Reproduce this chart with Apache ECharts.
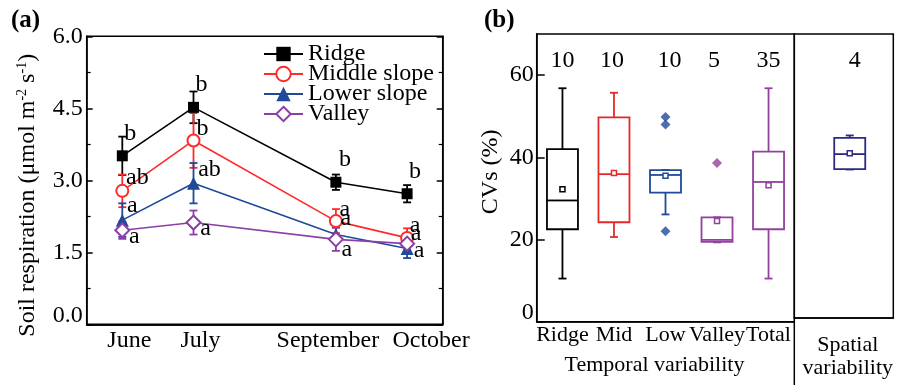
<!DOCTYPE html>
<html><head><meta charset="utf-8">
<script src="https://cdn.jsdelivr.net/npm/echarts@6/dist/echarts.min.js"></script>
<style>html,body{margin:0;padding:0;background:#fff}#c{width:904px;height:385px}</style>
</head><body><div id="c"></div>
<script>
// ---------- Panel (a) data ----------
const monthLabels = ['June', 'July', '', 'September', 'October'];
const seriesNames = ['Ridge', 'Middle slope', 'Lower slope', 'Valley'];
const ridgeMean  = [3.51, 4.52, null, 2.96, 2.72];
const ridgeErr   = [0.40, 0.33, null, 0.16, 0.18];
const midMean    = [2.78, 3.83, null, 2.15, 1.80];
const midErr     = [0.34, 0.57, null, 0.25, 0.20];
const lowMean    = [2.17, 2.94, null, 1.87, 1.58];
const lowErr     = [0.35, 0.42, null, 0.15, 0.20];
const valleyMean = [1.96, 2.12, null, 1.77, 1.68];
const valleyErr  = [0.18, 0.25, null, 0.24, 0.14];
const ridgeLetters  = ['b', 'b', '', 'b', 'b'];
const midLetters    = ['ab', 'b', '', 'a', 'a'];
const lowLetters    = ['a', 'ab', '', 'a', 'a'];
const valleyLetters = ['a', 'a', '', 'a', 'a'];

// ---------- Panel (b) data ----------
const boxCategories = ['Ridge', 'Mid', 'Low', 'Valley', 'Total'];
const boxMin    = [10.5, 20.6, 26.1, 19.3, 10.5];
const boxQ1     = [22.5, 24.2, 31.4, 19.4, 22.5];
const boxMedian = [29.5, 35.9, 35.7, 19.9, 34.0];
const boxQ3     = [42.0, 49.7, 36.9, 25.4, 41.4];
const boxMax    = [56.8, 55.7, 36.9, 25.4, 56.8];
const boxMean   = [32.2, 36.2, 35.5, 24.5, 33.2];
const boxN      = [10, 10, 10, 5, 35];
const outlierCategory = ['Low', 'Low', 'Low', 'Valley'];
const outlierValue    = [49.8, 48.0, 22.0, 38.6];
const spatialStats = [36.6, 36.7, 40.4, 44.4, 45.0]; // min, Q1, median, Q3, max
const spatialMean = 40.6;
const spatialN = 4;

// ---------- styles / layout ----------
const FONT = "'Liberation Serif','Times New Roman',serif";
const lineColors = ['#000000', '#ff2a2a', '#1f4a98', '#8c3fa6'];
const lineSymbols = ['rect', 'emptyCircle', 'triangle', 'emptyDiamond'];
const lineSymbolSizes = [11, 12, 13, 14];
const boxColors = ['#000000', '#e5292b', '#1f4a9c', '#93409e', '#93409e'];
const spatialColor = '#2b2b82';
const spatialX = 0.56; // horizontal placement inside the spatial panel
const nLabelShift = [0, -2, 4, -3, 0];
const letterOffsets = [
  [[8, -22], [8, -23], null, [9, -23], [8, -22]],
  [[15, -13], [9, -12], null, [9, -11], [8, -12]],
  [[10, -14], [16, -13], null, [10, -16], [9, -15]],
  [[12, 6], [12, 6], null, [11, 10], [12, 7]]
];

const means = [ridgeMean, midMean, lowMean, valleyMean];
const errs = [ridgeErr, midErr, lowErr, valleyErr];
const letters = [ridgeLetters, midLetters, lowLetters, valleyLetters];

const series = [];
// error bars
means.forEach((m, s) => {
  const data = [];
  m.forEach((v, i) => { if (v != null) data.push([i, v, errs[s][i]]); });
  series.push({
    type: 'custom', xAxisIndex: 0, yAxisIndex: 0, z: 2, silent: true,
    encode: { x: 0, y: 1 },
    data: data,
    renderItem: function (params, api) {
      const i = api.value(0), v = api.value(1), e = api.value(2);
      const top = api.coord([i, v + e]);
      const bot = api.coord([i, v - e]);
      const c = lineColors[s];
      const st = { stroke: c, lineWidth: 1.8 };
      return {
        type: 'group', children: [
          { type: 'line', shape: { x1: top[0], y1: top[1], x2: bot[0], y2: bot[1] }, style: st },
          { type: 'line', shape: { x1: top[0] - 4, y1: top[1], x2: top[0] + 4, y2: top[1] }, style: st },
          { type: 'line', shape: { x1: bot[0] - 4, y1: bot[1], x2: bot[0] + 4, y2: bot[1] }, style: st }
        ]
      };
    }
  });
});
// lines
means.forEach((m, s) => {
  series.push({
    type: 'line', name: seriesNames[s], xAxisIndex: 0, yAxisIndex: 0, z: 3,
    connectNulls: true,
    symbol: lineSymbols[s], symbolSize: lineSymbolSizes[s],
    itemStyle: { color: lineColors[s], borderWidth: 1.6 },
    lineStyle: { color: lineColors[s], width: 1.6 },
    data: m.map((v, i) => ({
      value: v,
      label: {
        show: v != null, formatter: letters[s][i], position: 'inside',
        offset: letterOffsets[s][i] || [0, 0],
        color: '#000', fontFamily: FONT, fontSize: 24
      }
    }))
  });
});
// boxes
function makeBoxRenderer(colorOf, shiftOf) {
  return function (params, api) {
    const x = api.value(0);
    const p = [1, 2, 3, 4, 5].map(k => api.coord([x, api.value(k)]));
    const mean = api.coord([x, api.value(6)]);
    const n = api.value(7);
    const cx = p[0][0];
    const bw = 31, cap = 4;
    const c = colorOf(params.dataIndex);
    const st = { stroke: c, lineWidth: 1.8, fill: null };
    const cs = params.coordSys;
    return {
      type: 'group', children: [
        { type: 'line', shape: { x1: cx, y1: p[3][1], x2: cx, y2: p[4][1] }, style: st },
        { type: 'line', shape: { x1: cx, y1: p[1][1], x2: cx, y2: p[0][1] }, style: st },
        { type: 'line', shape: { x1: cx - cap, y1: p[4][1], x2: cx + cap, y2: p[4][1] }, style: st },
        { type: 'line', shape: { x1: cx - cap, y1: p[0][1], x2: cx + cap, y2: p[0][1] }, style: st },
        { type: 'rect', shape: { x: cx - bw / 2, y: p[3][1], width: bw, height: p[1][1] - p[3][1] }, style: { stroke: c, lineWidth: 1.8, fill: '#fff' } },
        { type: 'line', shape: { x1: cx - bw / 2, y1: p[2][1], x2: cx + bw / 2, y2: p[2][1] }, style: st },
        { type: 'rect', shape: { x: mean[0] - 2.5, y: mean[1] - 2.5, width: 5, height: 5 }, style: { stroke: c, lineWidth: 1.5, fill: '#fff' } },
        { type: 'text', style: { text: String(n), x: cx + shiftOf(params.dataIndex), y: cs.y + 27, align: 'center', verticalAlign: 'middle', fontFamily: FONT, fontSize: 24, fill: '#000' } }
      ]
    };
  };
}
series.push({
  type: 'custom', xAxisIndex: 2, yAxisIndex: 2, silent: true,
  encode: { x: 0, y: [1, 2, 3, 4, 5] },
  data: boxCategories.map((c, i) => [i, boxMin[i], boxQ1[i], boxMedian[i], boxQ3[i], boxMax[i], boxMean[i], boxN[i]]),
  renderItem: makeBoxRenderer(i => boxColors[i], i => nLabelShift[i])
});
series.push({
  type: 'scatter', xAxisIndex: 2, yAxisIndex: 2, symbol: 'diamond', symbolSize: 10, silent: true,
  data: outlierCategory.map((c, i) => ({
    value: [boxCategories.indexOf(c), outlierValue[i]],
    itemStyle: { color: boxColors[boxCategories.indexOf(c)] }
  }))
});
series.push({
  type: 'custom', xAxisIndex: 3, yAxisIndex: 3, silent: true,
  encode: { x: 0, y: [1, 2, 3, 4, 5] },
  data: [[spatialX].concat(spatialStats, [spatialMean, spatialN])],
  renderItem: makeBoxRenderer(() => spatialColor, () => 5)
});

const axisLineStyle = { color: '#000', width: 1.5 };
const tickLabel = { color: '#000', fontFamily: FONT, fontSize: 24 };
const xShift = [[0, 0, 0, 14], [0, 0, 0, 14], [0, 0, 0, 0], [0, 16, 0, 0], [0, 0, 0, 48]];
const richX = {};
xShift.forEach((pd, i) => { richX['m' + i] = { fontFamily: FONT, fontSize: 24, color: '#000', padding: pd }; });

const option = {
  animation: false,
  backgroundColor: '#fff',
  title: [
    { text: '(a)', left: 11, top: 8, padding: 0, textStyle: { fontFamily: FONT, fontSize: 25, fontWeight: 'bold', color: '#000' } },
    { text: '(b)', left: 484, top: 8, padding: 0, textStyle: { fontFamily: FONT, fontSize: 25, fontWeight: 'bold', color: '#000' } }
  ],
  legend: {
    data: seriesNames, orient: 'vertical', left: 263, top: 42, padding: 0,
    itemWidth: 39, itemHeight: 18, itemGap: -4,
    textStyle: { fontFamily: FONT, fontSize: 24, color: '#000' }
  },
  grid: [
    { left: 86.7, top: 36.3, width: 356, height: 288, show: true, borderColor: '#000', borderWidth: 1.5, backgroundColor: 'transparent' },
    { left: 536.7, top: 34, width: 257.6, height: 287.7, show: true, borderColor: '#000', borderWidth: 1.5, backgroundColor: 'transparent' },
    { left: 794.3, top: 34, width: 99, height: 287.7, show: true, borderColor: '#000', borderWidth: 1.5, backgroundColor: 'transparent' }
  ],
  xAxis: [
    { gridIndex: 0, type: 'category', data: monthLabels, boundaryGap: true,
      axisLine: { lineStyle: axisLineStyle },
      axisTick: { inside: true, alignWithLabel: true, length: 6, lineStyle: axisLineStyle },
      axisLabel: { margin: 4, interval: 0, formatter: (v, i) => v ? '{m' + i + '|' + v + '}' : '', rich: richX },
      splitLine: { show: false } },
    { gridIndex: 0, type: 'category', data: monthLabels, position: 'top',
      axisLine: { lineStyle: axisLineStyle }, axisTick: { show: false }, axisLabel: { show: false } },
    { gridIndex: 1, type: 'category', data: boxCategories, boundaryGap: true,
      axisLine: { lineStyle: axisLineStyle },
      axisTick: { inside: true, alignWithLabel: true, length: 8, lineStyle: axisLineStyle },
      axisLabel: { margin: 3, interval: 0, color: '#000', fontFamily: FONT, fontSize: 22 },
      name: 'Temporal variability', nameLocation: 'middle', nameGap: 33,
      nameTextStyle: { fontFamily: FONT, fontSize: 22, color: '#000', padding: [0, 22, 0, 0] } },
    { gridIndex: 2, type: 'value', min: 0, max: 1,
      axisLine: { lineStyle: axisLineStyle }, axisTick: { show: false }, axisLabel: { show: false }, splitLine: { show: false },
      name: 'Spatial\nvariability', nameLocation: 'middle', nameGap: 16,
      nameTextStyle: { fontFamily: FONT, fontSize: 22, lineHeight: 23, color: '#000', padding: [0, 0, 0, 8] } }
  ],
  yAxis: [
    { gridIndex: 0, type: 'value', min: 0, max: 6, interval: 1.5,
      axisLine: { show: true, lineStyle: axisLineStyle },
      axisTick: { show: true, inside: true, length: 6, lineStyle: axisLineStyle },
      minorTick: { show: true, splitNumber: 2, length: 4, lineStyle: { color: '#000', width: 1.2 } },
      axisLabel: { margin: 4, formatter: v => v === 0 ? '{z|0.0}' : '{n|' + v.toFixed(1) + '}',
        rich: { z: Object.assign({ padding: [0, 0, 18, 0] }, tickLabel), n: tickLabel } },
      splitLine: { show: false },
      name: 'Soil respiration (μmol m{sup|-2} s{sup|-1})', nameLocation: 'middle', nameGap: 47,
      nameTextStyle: { fontFamily: FONT, fontSize: 24, color: '#000', padding: [0, 30, 0, 0],
        rich: { sup: { fontFamily: FONT, fontSize: 14, verticalAlign: 'top', padding: [0, 0, 10, 0], color: '#000' } } } },
    { gridIndex: 0, type: 'value', min: 0, max: 6, interval: 1.5, position: 'right',
      axisLine: { show: true, lineStyle: axisLineStyle },
      axisTick: { show: true, inside: true, length: 6, lineStyle: axisLineStyle },
      minorTick: { show: true, splitNumber: 2, length: 4, lineStyle: { color: '#000', width: 1.2 } },
      axisLabel: { show: false }, splitLine: { show: false } },
    { gridIndex: 1, type: 'value', min: 0, max: 70, interval: 20,
      axisLine: { show: true, lineStyle: axisLineStyle },
      axisTick: { show: true, inside: true, length: 8, lineStyle: axisLineStyle },
      axisLabel: { margin: 3, showMaxLabel: false, formatter: v => v === 0 ? '{z|0}' : '{n|' + v + '}',
        rich: { z: Object.assign({ padding: [0, 0, 17, 0] }, tickLabel), n: tickLabel } },
      splitLine: { show: false },
      name: 'CVs (%)', nameLocation: 'middle', nameGap: 34,
      nameTextStyle: { fontFamily: FONT, fontSize: 24, color: '#000', padding: [0, 0, 0, 12] } },
    { gridIndex: 2, type: 'value', min: 0, max: 70, show: false, splitLine: { show: false } }
  ],
  graphic: [
    { type: 'line', shape: { x1: 794.3, y1: 321, x2: 794.3, y2: 385 }, style: { stroke: '#000', lineWidth: 1.5 }, silent: true }
  ],
  series: series
};
const chart = echarts.init(document.getElementById('c'), null, { renderer: 'canvas' });
chart.setOption(option);
</script></body></html>
